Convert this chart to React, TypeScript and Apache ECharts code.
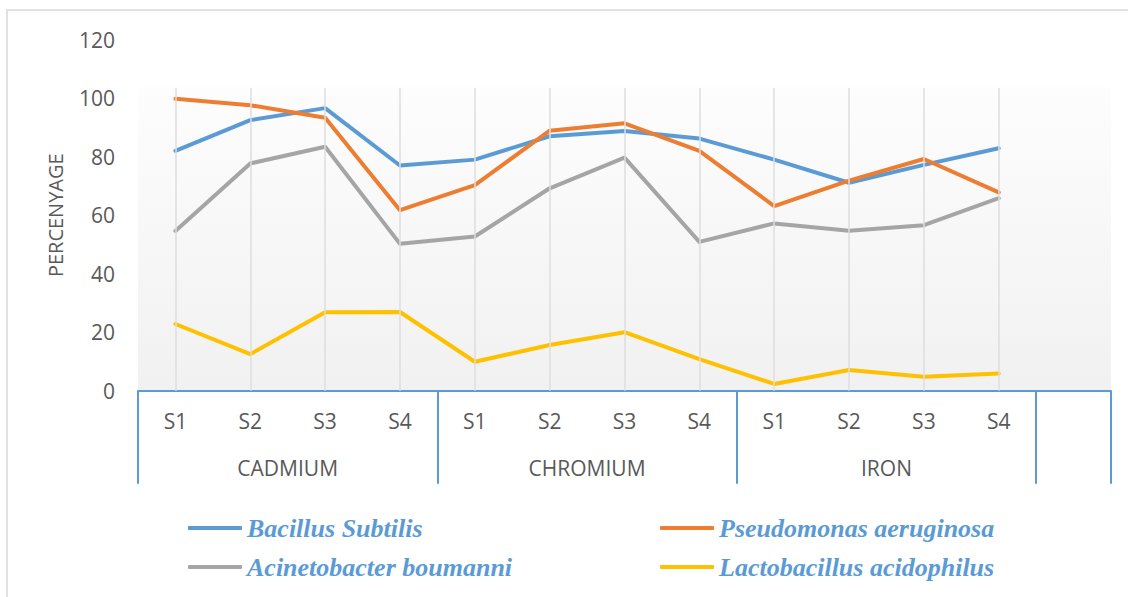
import React, { useEffect, useRef } from "react";
import * as echarts from "echarts";

const groups = ["CADMIUM", "CHROMIUM", "IRON"];
const samples = ["S1", "S2", "S3", "S4"];
const seriesNames = [
  "Bacillus Subtilis",
  "Pseudomonas aeruginosa",
  "Acinetobacter boumanni",
  "Lactobacillus acidophilus",
];
const bacillus = [82, 92.5, 96.6, 77, 79, 87, 88.8, 86.2, 79, 71.1, 77.2, 82.9];
const pseudomonas = [99.8, 97.6, 93.3, 61.7, 70.3, 88.9, 91.4, 82, 63.1, 71.8, 79.2, 67.8];
const acinetobacter = [54.6, 77.7, 83.4, 50.2, 52.7, 69.2, 79.7, 50.9, 57.2, 54.7, 56.6, 65.8];
const lactobacillus = [22.8, 12.5, 26.8, 26.9, 9.9, 15.6, 20, 10.8, 2.3, 7.1, 4.8, 5.9];
const colors = ["#5b9bd5", "#ed7d31", "#a5a5a5", "#ffc000"];
const yMin = 0;
const yMax = 120;
const yStep = 20;
const yAxisName = "PERCENYAGE";

export default function App() {
  const ref = useRef<HTMLDivElement>(null);
  useEffect(() => {
    if (!ref.current) return;
    const chart = echarts.init(ref.current, null, { renderer: "svg" });
    const categories: string[] = [];
    groups.forEach(() => samples.forEach((s) => categories.push(s)));
    const nData = categories.length;
    categories.push("");
    const nCat = categories.length;
    const groupTicks = groups.map((_, i) => i * samples.length).concat([groups.length * samples.length, nCat]);
    const groupLabelPos = groups.map((_, i) => i * samples.length + samples.length / 2);
    const gridTopValue = 103.5;
    const gridLines = [];
    for (let i = 0; i < nData; i++) {
      gridLines.push([{ coord: [i, yMin] }, { coord: [i, gridTopValue] }]);
    }
    const values = [bacillus, pseudomonas, acinetobacter, lactobacillus];
    const axisFont = "'Open Sans', sans-serif";
    const legendText = {
      fontFamily: "'Liberation Serif', serif",
      fontStyle: "italic" as const,
      fontWeight: "bold" as const,
      fontSize: 26,
      lineHeight: 26,
      color: "#5b9bd5",
    };
    chart.setOption({
      animation: false,
      backgroundColor: "#ffffff",
      grid: {
        left: 138,
        right: 17,
        top: 39.7,
        bottom: 206.3,
        show: true,
        borderWidth: 0,
        backgroundColor: {
          type: "linear",
          x: 0,
          y: 0,
          x2: 0,
          y2: 1,
          colorStops: [
            { offset: 0, color: "#ffffff" },
            { offset: 0.13, color: "#ffffff" },
            { offset: 0.14, color: "#fdfdfd" },
            { offset: 1, color: "#f1f1f1" },
          ],
        },
      },
      graphic: [
        {
          type: "rect",
          shape: { x: 7, y: 10, width: 1130, height: 600 },
          style: { fill: "none", stroke: "#d9d9d9", lineWidth: 1.5 },
          silent: true,
        },
      ],
      legend: [
        {
          data: [seriesNames[0], seriesNames[2]],
          orient: "vertical",
          left: 183,
          top: 510,
          itemWidth: 54,
          itemHeight: 4,
          itemGap: 13,
          icon: "roundRect",
          textStyle: legendText,
          selectedMode: false,
        },
        {
          data: [seriesNames[1], seriesNames[3]],
          orient: "vertical",
          left: 655,
          top: 510,
          itemWidth: 54,
          itemHeight: 4,
          itemGap: 13,
          icon: "roundRect",
          textStyle: legendText,
          selectedMode: false,
        },
      ],
      xAxis: [
        {
          type: "category",
          data: categories,
          boundaryGap: true,
          position: "bottom",
          axisLine: { show: true, lineStyle: { color: "#5b9bd5", width: 2 } },
          axisTick: { show: false },
          splitLine: { show: false },
          axisLabel: {
            color: "#595959",
            fontFamily: axisFont,
            fontSize: 21,
            margin: 20,
            interval: 0,
          },
        },
        {
          type: "value",
          min: 0,
          max: nCat,
          position: "bottom",
          axisLine: { show: false },
          splitLine: { show: false },
          axisTick: {
            show: true,
            inside: false,
            length: 93,
            customValues: groupTicks,
            lineStyle: { color: "#5b9bd5", width: 2 },
          },
          axisLabel: {
            show: true,
            customValues: groupLabelPos,
            formatter: (v: number) => {
              const idx = groupLabelPos.indexOf(v);
              return idx >= 0 ? groups[idx] : "";
            },
            color: "#595959",
            fontFamily: axisFont,
            fontSize: 21,
            margin: 67,
          },
        },
      ],
      yAxis: {
        type: "value",
        min: yMin,
        max: yMax,
        interval: yStep,
        name: yAxisName,
        nameLocation: "middle",
        nameGap: 73,
        nameTextStyle: { color: "#595959", fontFamily: axisFont, fontSize: 20 },
        axisLine: { show: false },
        axisTick: { show: false },
        splitLine: { show: false },
        axisLabel: { color: "#595959", fontFamily: axisFont, fontSize: 21, margin: 23 },
      },
      series: [
        {
          name: "__grid",
          type: "line",
          data: [],
          z: 1,
          silent: true,
          markLine: {
            silent: true,
            symbol: ["none", "none"],
            label: { show: false },
            lineStyle: { color: "#dedede", width: 1.5, type: "solid" },
            emphasis: { disabled: true },
            data: gridLines,
          },
        },
        ...values.map((vals, i) => ({
          name: seriesNames[i],
          type: "line",
          data: vals,
          z: 3,
          showSymbol: false,
          symbol: "none",
          color: colors[i],
          lineStyle: { color: colors[i], width: 4, cap: "round", join: "round" },
          emphasis: { disabled: true },
        })),
      ],
    });
    return () => chart.dispose();
  }, []);
  return (
    <div
      ref={ref}
      style={{ position: "fixed", left: 0, top: 0, width: 1128, height: 597 }}
    />
  );
}
